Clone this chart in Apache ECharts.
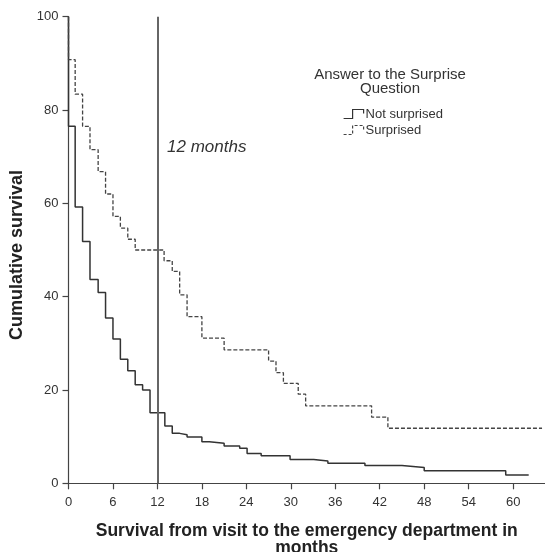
<!DOCTYPE html>
<html>
<head>
<meta charset="utf-8">
<script src="https://cdn.jsdelivr.net/npm/echarts@6/dist/echarts.min.js"></script>
<style>
html,body{margin:0;padding:0;background:#fff;}
#chart{width:545px;height:552px;}
</style>
</head>
<body>
<div id="chart"></div>
<script>
// Kaplan-Meier step data (month, cumulative survival %)
var notSurprisedTimes  = [0, 0, 0.9, 1.9, 2.9, 4.0, 5.0, 6.0, 7.0, 8.0, 9.0, 10.0, 11.0, 13.0, 14.0, 15.0, 16.0, 18.0, 19.0, 21.0, 23.1, 24.1, 26.0, 29.9, 33.1, 35.0, 40.0, 45.0, 48.0, 59.0, 62.1];
var notSurprisedValues = [100, 76.5, 59.2, 51.8, 43.7, 40.9, 35.4, 30.9, 26.6, 24.1, 21.1, 20.0, 15.1, 12.3, 10.7, 10.4, 9.9, 8.9, 8.6, 8.0, 7.5, 6.4, 5.9, 5.1, 4.8, 4.3, 3.8, 3.4, 2.7, 1.8, 1.8];

var surprisedTimes  = [0, 0, 0.9, 1.9, 2.9, 4.0, 5.0, 6.0, 7.0, 8.0, 9.0, 12.9, 14.0, 15.0, 16.0, 18.0, 21.0, 27.0, 28.0, 29.0, 31.0, 32.0, 40.9, 43.1, 63.9];
var surprisedValues = [100, 90.8, 83.4, 76.5, 71.5, 66.8, 62.0, 57.2, 54.7, 52.3, 50.0, 47.7, 45.4, 40.4, 35.7, 31.1, 28.6, 26.2, 23.7, 21.4, 19.1, 16.6, 14.2, 11.8, 11.8];

var xTicks = [0, 6, 12, 18, 24, 30, 36, 42, 48, 54, 60];
var markerMonth = 12;
var seriesNames = ['Not surprised', 'Surprised'];
var legendTitle = 'Answer to the Surprise\nQuestion';
var markerText = '12 months';
var xName = 'Survival from visit to the emergency department in\nmonths';
var yName = 'Cumulative survival';

function pairs(t, v) { return t.map(function (x, i) { return [x, v[i]]; }); }

var FONT = 'Liberation Sans, Arial, sans-serif';
var chart = echarts.init(document.getElementById('chart'), null, {renderer: 'canvas'});
chart.setOption({
  backgroundColor: '#fff',
  animation: false,
  textStyle: {fontFamily: FONT},
  grid: {left: 68.5, right: 0, top: 16.7, bottom: 68.7, containLabel: false, outerBoundsMode: 'none'},
  xAxis: {
    type: 'value', min: 0, max: 64.3,
    splitLine: {show: false},
    axisLine: {show: true, onZero: false, lineStyle: {color: '#444', width: 1.2}},
    axisTick: {show: true, length: 6, inside: false, customValues: xTicks, lineStyle: {color: '#444', width: 1.2}},
    axisLabel: {show: true, customValues: xTicks, margin: 13, color: '#333', fontSize: 13, fontFamily: FONT},
    name: xName, nameLocation: 'middle', nameGap: 39,
    nameTextStyle: {fontSize: 17.5, fontWeight: 'bold', color: '#222', fontFamily: FONT, lineHeight: 17}
  },
  yAxis: {
    type: 'value', min: 0, max: 100, interval: 20,
    splitLine: {show: false},
    axisLine: {show: true, onZero: false, lineStyle: {color: '#444', width: 1.2}},
    axisTick: {show: true, length: 6, inside: false, lineStyle: {color: '#444', width: 1.2}},
    axisLabel: {margin: 10, color: '#333', fontSize: 13, fontFamily: FONT},
    name: yName, nameLocation: 'middle', nameGap: 42, nameRotate: 90,
    nameTextStyle: {fontSize: 18, fontWeight: 'bold', color: '#222', fontFamily: FONT, padding: [0, 10, 0, 0]}
  },
  legend: {
    orient: 'vertical', left: 338, top: 102, itemGap: 2, itemWidth: 22, itemHeight: 9,
    textStyle: {fontSize: 13, lineHeight: 14, color: '#333', fontFamily: FONT, padding: [0, 0, 0, -4]},
    data: [
      {name: seriesNames[0], icon: 'path://M0,10L9,10L9,1L20,1L20,5',
       itemStyle: {color: 'rgba(0,0,0,0)', borderColor: '#333', borderWidth: 1.2, borderType: 'solid'}},
      {name: seriesNames[1], icon: 'path://M0,10L9,10L9,1L20,1L20,5',
       itemStyle: {color: 'rgba(0,0,0,0)', borderColor: '#444', borderWidth: 1.2, borderType: [3, 2]}}
    ]
  },
  graphic: [
    {type: 'text', x: 390, y: 82, style: {text: legendTitle, fontSize: 15, fontFamily: FONT, fill: '#333', align: 'center', verticalAlign: 'middle', lineHeight: 14}},
    {type: 'text', x: 167, y: 147, style: {text: markerText, fontSize: 17, fontStyle: 'italic', fontFamily: FONT, fill: '#333', verticalAlign: 'middle'}}
  ],
  series: [
    {
      name: seriesNames[0], type: 'line', step: 'end', showSymbol: false, symbol: 'none',
      data: pairs(notSurprisedTimes, notSurprisedValues),
      lineStyle: {color: '#333', width: 1.5, type: 'solid'},
      itemStyle: {color: '#333'},
      markLine: {
        silent: true, symbol: 'none', label: {show: false},
        lineStyle: {color: '#666', width: 2, type: 'solid'},
        data: [[{coord: [markerMonth, 0]}, {coord: [markerMonth, 100]}]]
      },
      z: 3
    },
    {
      name: seriesNames[1], type: 'line', step: 'end', showSymbol: false, symbol: 'none',
      data: pairs(surprisedTimes, surprisedValues),
      lineStyle: {color: '#444', width: 1.3, type: [4, 2]},
      itemStyle: {color: '#444'},
      z: 3
    }
  ]
});
</script>
</body>
</html>
